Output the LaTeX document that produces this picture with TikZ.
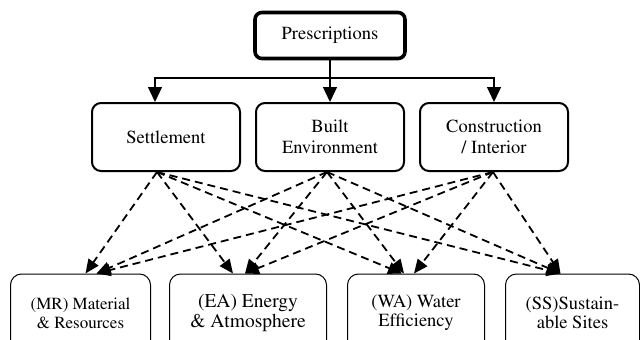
\documentclass[tikz,border=0pt]{standalone}
\usepackage[T1]{fontenc}
\renewcommand{\rmdefault}{ptm}
\usetikzlibrary{arrows.meta}
\begin{document}
\begin{tikzpicture}[x=1pt,y=-1pt,
  topbox/.style={draw,rounded corners=7pt,line width=3.6pt,minimum width=150pt,minimum height=46pt,inner sep=0pt,align=center,font=\rmfamily\fontsize{18.5}{21}\selectfont},
  midbox/.style={draw,rounded corners=9pt,line width=2pt,minimum width=148pt,minimum height=68pt,inner sep=0pt,align=center,font=\rmfamily\fontsize{18.5}{21}\selectfont},
  lowbox/.style={draw,rounded corners=11pt,line width=1pt,minimum height=78pt,inner sep=0pt,align=center},
  conn/.style={line width=1.3pt,-{Triangle[length=15pt,width=14pt]}},
  dconn/.style={line width=1.8pt,dash pattern=on 8pt off 5pt,-{Triangle[length=14pt,width=12pt]}}]
\clip (0,0) rectangle (640,340);
\fill[white] (0,0) rectangle (640,340);
% nodes
\node[topbox] (pres) at (330,35.5) {Prescriptions};
\node[midbox] (settle) at (166,137) {Settlement};
\node[midbox] (built) at (330,137) {Built\\Environment};
\node[midbox] (constr) at (494,137) {Construction\\/ Interior};
\node[lowbox,minimum width=140pt,font=\rmfamily\fontsize{17}{19}\selectfont] (mr) at (80.5,313) {(MR) Material\\\& Resources};
\node[lowbox,minimum width=157pt,font=\rmfamily\fontsize{19.5}{19.5}\selectfont] (ea) at (248,313) {(EA) Energy\\\& Atmosphere};
\node[lowbox,minimum width=137pt,font=\rmfamily\fontsize{18.5}{19}\selectfont] (wa) at (416,313) {(WA) Water\\Efficiency};
\node[lowbox,minimum width=134pt,font=\rmfamily\fontsize{18.5}{19}\selectfont] (ss) at (572.5,313) {(SS)Sustain-\\able Sites};
% solid connectors
\coordinate (bar) at (330,78);
\draw[conn] (pres.south) -- (built.north);
\draw[conn] (bar) -| ([xshift=-11pt]settle.north);
\draw[conn] (bar) -| (constr.north);
% dashed connectors
\coordinate (sS) at ([xshift=-9pt]settle.south);
\coordinate (bS) at ([xshift=-3pt]built.south);
\coordinate (cS) at ([xshift=-1pt]constr.south);
\draw[dconn] (sS) -- ([xshift=5pt]mr.north);
\draw[dconn] (bS) -- ([xshift=16pt]mr.north);
\draw[dconn] (cS) -- ([xshift=16pt]mr.north);
\draw[dconn] (sS) -- ([xshift=-15pt]ea.north);
\draw[dconn] (bS) -- ([xshift=-3pt]ea.north);
\draw[dconn] (cS) -- ([xshift=-3pt]ea.north);
\draw[dconn] (sS) -- ([xshift=-14pt]wa.north);
\draw[dconn] (bS) -- ([xshift=-12pt]wa.north);
\draw[dconn] (cS) -- ([xshift=-2pt]wa.north);
\draw[dconn] (sS) -- ([xshift=-12pt]ss.north);
\draw[dconn] (bS) -- ([xshift=-12pt]ss.north);
\draw[dconn] (cS) -- ([xshift=-12pt]ss.north);
\end{tikzpicture}
\end{document}
